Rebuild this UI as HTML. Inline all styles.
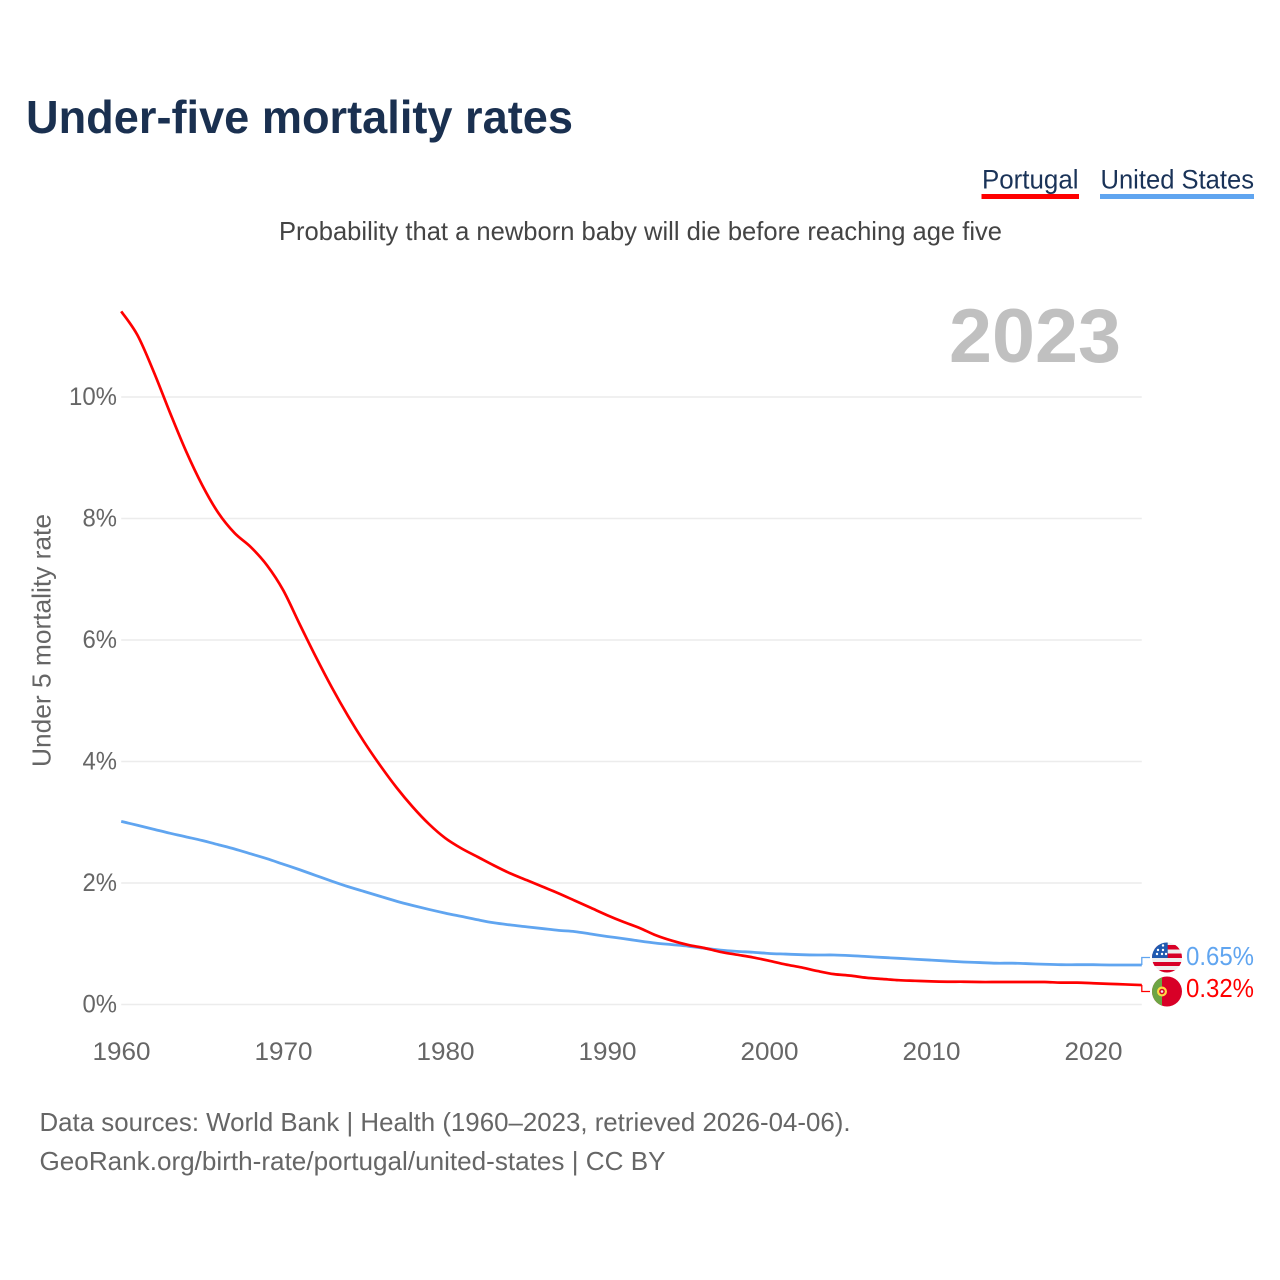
<!DOCTYPE html>
<html lang="en">
<head>
<meta charset="utf-8">
<title>Under-five mortality rates</title>
<style>
html,body{margin:0;padding:0;background:#fff;}
svg{display:block;font-family:"Liberation Sans",sans-serif;}
</style>
</head>
<body>
<svg id="chart" xmlns="http://www.w3.org/2000/svg" width="1280" height="1280" viewBox="0 0 1280 1280">
  <defs>
    <clipPath id="clip-us"><circle cx="1167" cy="957.5" r="15"/></clipPath>
    <clipPath id="clip-pt"><circle cx="1167" cy="991.5" r="15"/></clipPath>
  </defs>
  <rect width="1280" height="1280" fill="#fff"/>
  <text x="26" y="133" font-size="46" font-weight="700" fill="#1a3050" textLength="547" lengthAdjust="spacingAndGlyphs">Under-five mortality rates</text>

  <g>
    <text x="982" y="188.5" font-size="27" fill="#1a3358" textLength="96.5" lengthAdjust="spacingAndGlyphs">Portugal</text>
    <rect x="981.5" y="194" width="97.5" height="5" fill="#ff0000"/>
  </g>
  <g>
    <text x="1100.5" y="188.5" font-size="27" fill="#1a3358" textLength="153.5" lengthAdjust="spacingAndGlyphs">United States</text>
    <rect x="1100" y="194" width="154" height="5" fill="#60a5f0"/>
  </g>

  <text x="279" y="240" font-size="26" fill="#444" textLength="723" lengthAdjust="spacingAndGlyphs">Probability that a newborn baby will die before reaching age five</text>
  <text x="949" y="362" font-size="76" font-weight="700" fill="#c0c0c0" textLength="172" lengthAdjust="spacingAndGlyphs">2023</text>
  <text transform="translate(50.5,767) rotate(-90)" font-size="26" fill="#666" textLength="253" lengthAdjust="spacingAndGlyphs">Under 5 mortality rate</text>

  <g id="grid"></g>
  <g id="y-ticks"></g>
  <g id="x-ticks"></g>
  <g id="series"></g>

  <g clip-path="url(#clip-us)">
    <rect x="1152" y="942" width="30" height="31" fill="#eeeeee"/>
    <rect x="1152" y="945" width="30" height="4.5" fill="#d80027"/>
    <rect x="1152" y="953.5" width="30" height="4.5" fill="#d80027"/>
    <rect x="1152" y="962" width="30" height="4" fill="#d80027"/>
    <rect x="1152" y="970" width="30" height="3" fill="#d80027"/>
    <rect x="1152" y="942" width="15.7" height="16" fill="#1f5ab0"/>
    <circle cx="1157" cy="954" r="1.2" fill="#fff"/><circle cx="1162" cy="954" r="1.2" fill="#fff"/><circle cx="1166" cy="954" r="1.2" fill="#fff"/>
    <circle cx="1158" cy="950" r="1.2" fill="#fff"/><circle cx="1163" cy="950" r="1.2" fill="#fff"/>
    <circle cx="1163" cy="945.5" r="1.2" fill="#fff"/>
  </g>
  <g clip-path="url(#clip-pt)">
    <rect x="1152" y="976" width="30" height="31" fill="#d80027"/>
    <rect x="1152" y="976" width="10" height="31" fill="#6da544"/>
    <circle cx="1162" cy="991.5" r="5" fill="#ffda44"/>
    <circle cx="1162" cy="991.5" r="2.8" fill="#d80027"/>
    <circle cx="1162" cy="991.5" r="1.3" fill="#eeeeee"/>
  </g>

  <text id="label-us" x="1186" y="965" font-size="26" fill="#60a5f0" textLength="68" lengthAdjust="spacingAndGlyphs"></text>
  <text id="label-pt" x="1186" y="997" font-size="26" fill="#ff0000" textLength="68" lengthAdjust="spacingAndGlyphs"></text>

  <text x="39.5" y="1131" font-size="26" fill="#666" textLength="811" lengthAdjust="spacingAndGlyphs">Data sources: World Bank | Health (1960–2023, retrieved 2026-04-06).</text>
  <text x="39.5" y="1170" font-size="26" fill="#666" textLength="626" lengthAdjust="spacingAndGlyphs">GeoRank.org/birth-rate/portugal/united-states | CC BY</text>
</svg>
<script>
const startYear = 1960;
const portugal = [11.41,11.02,10.42,9.75,9.11,8.55,8.09,7.76,7.53,7.23,6.82,6.27,5.73,5.22,4.75,4.32,3.93,3.57,3.25,2.97,2.74,2.57,2.43,2.29,2.16,2.05,1.94,1.83,1.71,1.59,1.47,1.36,1.26,1.14,1.05,0.98,0.93,0.865,0.82,0.775,0.72,0.66,0.61,0.55,0.5,0.475,0.44,0.42,0.4,0.39,0.38,0.375,0.375,0.37,0.37,0.37,0.37,0.37,0.36,0.36,0.35,0.34,0.33,0.32];
const unitedStates = [3.015,2.95,2.885,2.82,2.76,2.7,2.63,2.56,2.48,2.4,2.31,2.22,2.125,2.03,1.94,1.86,1.78,1.7,1.63,1.565,1.505,1.45,1.395,1.345,1.31,1.28,1.25,1.22,1.2,1.16,1.12,1.085,1.045,1.01,0.985,0.96,0.925,0.895,0.875,0.86,0.84,0.83,0.82,0.815,0.815,0.805,0.79,0.775,0.76,0.745,0.73,0.715,0.7,0.69,0.68,0.68,0.672,0.662,0.655,0.655,0.655,0.65,0.65,0.65];
const yTickValues = [0,2,4,6,8,10];
const xTickValues = [1960,1970,1980,1990,2000,2010,2020];

const NS = 'http://www.w3.org/2000/svg';
const xScale = function (year) { return 121.2 + (year - 1960) * 16.2; };
const yScale = function (v) { return 1004.5 - v * 60.75; };
const make = function (tag, parentId) {
  const node = document.createElementNS(NS, tag);
  document.getElementById(parentId).appendChild(node);
  return node;
};

yTickValues.forEach(function (v) {
  const line = make('line', 'grid');
  
  
  line.setAttribute('x1', xScale(1960));
  line.setAttribute('x2', xScale(2023));
  line.setAttribute('y1', yScale(v));
  line.setAttribute('y2', yScale(v));
  line.setAttribute('stroke', '#ececec');
  line.setAttribute('stroke-width', '1.6');

  const label = make('text', 'y-ticks');
  
  
  label.setAttribute('x', v >= 10 ? 69 : 82.5);
  label.setAttribute('y', yScale(v) + 8);
  label.setAttribute('font-size', '25');
  label.setAttribute('fill', '#666');
  label.setAttribute('textLength', v >= 10 ? 48 : 34.5);
  label.setAttribute('lengthAdjust', 'spacingAndGlyphs');
  label.textContent = v + '%';
});

xTickValues.forEach(function (year) {
  const label = make('text', 'x-ticks');
  
  
  label.setAttribute('x', xScale(year) - 28.7);
  label.setAttribute('y', 1060);
  label.setAttribute('font-size', '25');
  label.setAttribute('fill', '#666');
  label.setAttribute('textLength', 58);
  label.setAttribute('lengthAdjust', 'spacingAndGlyphs');
  label.textContent = String(year);
});

// Smooth path through the yearly values (Catmull-Rom converted to cubic Beziers).
const pathFor = function (values) {
  const pts = values.map(function (v, i) { return [xScale(startYear + i), yScale(v)]; });
  let d = 'M' + pts[0][0].toFixed(2) + ' ' + pts[0][1].toFixed(2);
  for (let i = 0; i < pts.length - 1; i++) {
    const p0 = pts[Math.max(i - 1, 0)];
    const p1 = pts[i];
    const p2 = pts[i + 1];
    const p3 = pts[Math.min(i + 2, pts.length - 1)];
    const c1x = p1[0] + (p2[0] - p0[0]) / 6;
    const c1y = p1[1] + (p2[1] - p0[1]) / 6;
    const c2x = p2[0] - (p3[0] - p1[0]) / 6;
    const c2y = p2[1] - (p3[1] - p1[1]) / 6;
    d += 'C' + c1x.toFixed(2) + ' ' + c1y.toFixed(2) + ' ' + c2x.toFixed(2) + ' ' + c2y.toFixed(2) + ' ' + p2[0].toFixed(2) + ' ' + p2[1].toFixed(2);
  }
  return d;
};

const usLine = make('path', 'series');


usLine.setAttribute('d', pathFor(unitedStates));
usLine.setAttribute('fill', 'none');
usLine.setAttribute('stroke', '#60a5f0');
usLine.setAttribute('stroke-width', '2.8');

const ptLine = make('path', 'series');


ptLine.setAttribute('d', pathFor(portugal));
ptLine.setAttribute('fill', 'none');
ptLine.setAttribute('stroke', '#ff0000');
ptLine.setAttribute('stroke-width', '2.7');

const lastX = xScale(startYear + portugal.length - 1);

const usConnector = make('polyline', 'series');


usConnector.setAttribute('points', lastX + ',' + yScale(unitedStates[unitedStates.length - 1]) + ' ' + lastX + ',957.5 1150,957.5');
usConnector.setAttribute('fill', 'none');
usConnector.setAttribute('stroke', '#60a5f0');
usConnector.setAttribute('stroke-width', '1.3');

const ptConnector = make('polyline', 'series');


ptConnector.setAttribute('points', lastX + ',' + yScale(portugal[portugal.length - 1]) + ' ' + lastX + ',991.5 1150,991.5');
ptConnector.setAttribute('fill', 'none');
ptConnector.setAttribute('stroke', '#ff0000');
ptConnector.setAttribute('stroke-width', '1.3');

document.getElementById('label-us').textContent = unitedStates[unitedStates.length - 1].toFixed(2) + '%';
document.getElementById('label-pt').textContent = portugal[portugal.length - 1].toFixed(2) + '%';
</script>
</body>
</html>
